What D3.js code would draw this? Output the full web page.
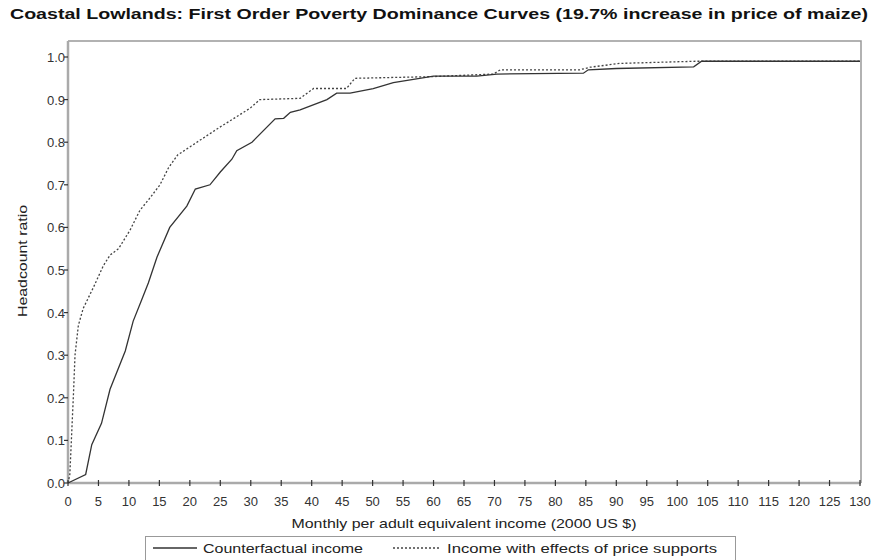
<!DOCTYPE html>
<html>
<head>
<meta charset="utf-8">
<script src="https://cdn.jsdelivr.net/npm/d3@7/dist/d3.min.js"></script>
<style>
  body { margin: 0; background: #fff; }
  svg { display: block; }
  .tick-label { font-family: "Liberation Sans", Arial, sans-serif; font-size: 13px; fill: #333; }
  .axis-title { font-family: "Liberation Sans", Arial, sans-serif; font-size: 13px; fill: #222; }
  .legend-label { font-family: "Liberation Sans", Arial, sans-serif; font-size: 13px; fill: #222; }
</style>
</head>
<body>
<div id="chart"></div>
<script>
// Chart text
const TITLE = 'Coastal Lowlands: First Order Poverty Dominance Curves (19.7% increase in price of maize)';
const X_TITLE = 'Monthly per adult equivalent income (2000 US $)';
const Y_TITLE = 'Headcount ratio';
const SERIES_NAMES = ['Counterfactual income', 'Income with effects of price supports'];

// Tick values
const X_TICKS = d3.range(0, 131, 5);
const Y_TICKS = [0, 0.1, 0.2, 0.3, 0.4, 0.5, 0.6, 0.7, 0.8, 0.9, 1.0];

// Counterfactual income (solid)
const cfIncome = [0, 2.9, 3.9, 5.5, 6.9, 9.4, 10.7, 12.1, 13.2, 14.6, 16.7, 19.5, 20.9, 23.3, 25, 26.9, 27.7, 30.2, 34, 35.4, 36.5, 38.1, 42.5, 44.1, 46.3, 50.1, 53.4, 60, 67.1, 70.4, 84.6, 85.4, 90, 102.7, 104, 130];
const cfRatio  = [0, 0.02, 0.09, 0.14, 0.22, 0.31, 0.38, 0.43, 0.47, 0.53, 0.60, 0.65, 0.69, 0.70, 0.73, 0.76, 0.78, 0.80, 0.855, 0.856, 0.87, 0.876, 0.90, 0.915, 0.915, 0.926, 0.94, 0.955, 0.955, 0.96, 0.962, 0.97, 0.973, 0.977, 0.99, 0.99];

// Income with effects of price supports (dotted)
const psIncome = [0, 0.3, 0.9, 1.15, 1.7, 2.5, 4.2, 5.8, 6.9, 8.3, 10.2, 11.8, 13.5, 15.1, 16.5, 18, 21.7, 25, 27.7, 29.9, 31.5, 38.1, 40.3, 45.7, 47.1, 60, 69.8, 71, 84, 85.7, 90.6, 103, 130];
const psRatio  = [0, 0.02, 0.21, 0.30, 0.37, 0.41, 0.46, 0.51, 0.535, 0.55, 0.594, 0.64, 0.67, 0.70, 0.74, 0.77, 0.805, 0.836, 0.86, 0.88, 0.90, 0.903, 0.926, 0.926, 0.95, 0.954, 0.96, 0.97, 0.97, 0.976, 0.985, 0.99, 0.99];

const width = 876, height = 560;
const plot = { left: 68, right: 860, top: 41, bottom: 483 };

const svg = d3.select('#chart').append('svg')
  .attr('width', width)
  .attr('height', height);

const x = d3.scaleLinear().domain([0, 130]).range([plot.left, plot.right]);
const y = d3.scaleLinear().domain([0, 1]).range([plot.bottom, 57]);

// Title
svg.append('text')
  .attr('x', 439).attr('y', 19)
  .attr('text-anchor', 'middle')
  .attr('textLength', 858)
  .attr('lengthAdjust', 'spacingAndGlyphs')
  .style('font-family', '"Liberation Sans Narrow", "Liberation Sans", Arial, sans-serif')
  .style('font-weight', 'bold')
  .style('font-size', '15px')
  .style('fill', '#111')
  .text(TITLE);

// Frame (top and right)
svg.append('path')
  .attr('d', `M${plot.left},${plot.top}H${plot.right + 1}V${plot.bottom}`)
  .attr('fill', 'none')
  .attr('stroke', '#999')
  .attr('stroke-width', 1.5);

// Axis lines
svg.append('line')
  .attr('x1', plot.left).attr('x2', plot.left)
  .attr('y1', plot.top).attr('y2', plot.bottom)
  .attr('stroke', '#aaa').attr('stroke-width', 2.5);
svg.append('line')
  .attr('x1', plot.left).attr('x2', plot.right + 1)
  .attr('y1', plot.bottom).attr('y2', plot.bottom)
  .attr('stroke', '#aaa').attr('stroke-width', 2.5);

// Y ticks
const yTicks = svg.append('g');
yTicks.selectAll('line')
  .data(Y_TICKS)
  .enter().append('line')
  .attr('x1', plot.left - 4).attr('x2', plot.left)
  .attr('y1', d => y(d)).attr('y2', d => y(d))
  .attr('stroke', '#333').attr('stroke-width', 1.2);
yTicks.selectAll('text')
  .data(Y_TICKS)
  .enter().append('text')
  .attr('class', 'tick-label')
  .attr('x', plot.left - 3)
  .attr('y', d => y(d) + 5)
  .attr('text-anchor', 'end')
  .text(d => d3.format('.1f')(d));

// X ticks
const xTicks = svg.append('g');
xTicks.selectAll('line')
  .data(X_TICKS)
  .enter().append('line')
  .attr('x1', d => x(d)).attr('x2', d => x(d))
  .attr('y1', plot.bottom - 3).attr('y2', plot.bottom + 3)
  .attr('stroke', '#333').attr('stroke-width', 1.2);
xTicks.selectAll('text')
  .data(X_TICKS)
  .enter().append('text')
  .attr('class', 'tick-label')
  .attr('x', d => x(d))
  .attr('y', plot.bottom + 23)
  .attr('text-anchor', 'middle')
  .text(d => d);

// Axis titles
svg.append('text')
  .attr('class', 'axis-title')
  .attr('x', 464).attr('y', 528)
  .attr('text-anchor', 'middle')
  .attr('textLength', 345)
  .attr('lengthAdjust', 'spacingAndGlyphs')
  .text(X_TITLE);
svg.append('text')
  .attr('class', 'axis-title')
  .attr('transform', 'translate(27,261) rotate(-90)')
  .attr('text-anchor', 'middle')
  .attr('textLength', 112)
  .attr('lengthAdjust', 'spacingAndGlyphs')
  .text(Y_TITLE);

// Curves
const line = d3.line()
  .x(d => x(d[0]))
  .y(d => y(d[1]));

const cfData = d3.zip(cfIncome, cfRatio);
const psData = d3.zip(psIncome, psRatio);

svg.append('path')
  .datum(psData)
  .attr('d', line)
  .attr('fill', 'none')
  .attr('stroke', '#444')
  .attr('stroke-width', 1.3)
  .attr('stroke-dasharray', '2,2');

svg.append('path')
  .datum(cfData)
  .attr('d', line)
  .attr('fill', 'none')
  .attr('stroke', '#333')
  .attr('stroke-width', 1.3);

// Legend
const legend = svg.append('g');
legend.append('rect')
  .attr('x', 145.5).attr('y', 536.5)
  .attr('width', 590).attr('height', 30)
  .attr('fill', '#fff')
  .attr('stroke', '#999');
legend.append('line')
  .attr('x1', 153).attr('x2', 197)
  .attr('y1', 548).attr('y2', 548)
  .attr('stroke', '#333').attr('stroke-width', 1.3);
legend.append('text')
  .attr('class', 'legend-label')
  .attr('x', 203).attr('y', 553)
  .attr('textLength', 160)
  .attr('lengthAdjust', 'spacingAndGlyphs')
  .text(SERIES_NAMES[0]);
legend.append('line')
  .attr('x1', 393).attr('x2', 440)
  .attr('y1', 548).attr('y2', 548)
  .attr('stroke', '#444').attr('stroke-width', 1.3)
  .attr('stroke-dasharray', '2,2');
legend.append('text')
  .attr('class', 'legend-label')
  .attr('x', 447).attr('y', 553)
  .attr('textLength', 270)
  .attr('lengthAdjust', 'spacingAndGlyphs')
  .text(SERIES_NAMES[1]);
</script>
</body>
</html>
